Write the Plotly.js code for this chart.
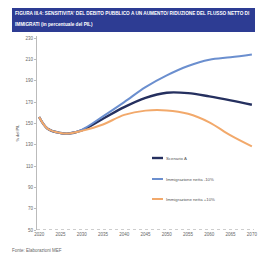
<!DOCTYPE html>
<html>
<head>
<meta charset="utf-8">
<script src="https://cdn.plot.ly/plotly-3.0.1.min.js"></script>
<style>html,body{margin:0;padding:0;background:#fff;}#chart{width:258px;height:256px;}</style>
</head>
<body>
<div id="chart"></div>
<script>
const years = [2020, 2022, 2025, 2027, 2030, 2035, 2040, 2045, 2050, 2055, 2060, 2065, 2070];
const scenarioA = [156, 145, 141, 140.5, 143.5, 154.4, 165.3, 174, 178.8, 178.4, 175.3, 171.6, 167.5];
const immigMinus = [156, 145, 141, 140.5, 144, 156.6, 170, 184, 195, 203.8, 209.7, 212, 214.7];
const immigPlus = [156, 145, 141, 140.5, 143, 149, 158, 162, 162.2, 159, 151, 138.7, 128.4];
const seriesNames = ["Scenario A", "Immigrazione netta -10%", "Immigrazione netta +10%"];
const seriesColors = ["#25305f", "#6b8fcf", "#f2a96b"];
const seriesWidths = [2.4, 2, 2];
const yTicks = [50, 70, 90, 110, 130, 150, 170, 190, 210, 230];
const xTicks = [2020, 2025, 2030, 2035, 2040, 2045, 2050, 2055, 2060, 2065, 2070];
const titleLines = ["FIGURA III.4: SENSITIVITA' DEL DEBITO PUBBLICO A UN AUMENTO/ RIDUZIONE DEL FLUSSO NETTO DI", "IMMIGRATI (in percentuale del PIL)"];
const yTitle = "% del PIL";
const source = "Fonte: Elaborazioni MEF";

const allSeries = [scenarioA, immigMinus, immigPlus];
const traces = allSeries.map((v, i) => ({
  x: years, y: v, type: 'scatter', mode: 'lines', name: seriesNames[i],
  line: {color: seriesColors[i], width: seriesWidths[i], shape: 'spline', smoothing: 1},
  showlegend: false, hoverinfo: 'skip'
}));

const W = 217, H = 194;
const px = p => (p - 37) / W;
const py = p => (230 - p) / H;

const shapes = [
  {type: 'rect', xref: 'paper', yref: 'paper', x0: px(12), x1: px(255), y0: py(32), y1: py(8), fillcolor: '#2d3c93', line: {width: 0}, layer: 'below'},
  {type: 'line', xref: 'paper', yref: 'y', x0: 0, x1: 1, y0: 50, y1: 50, line: {color: '#9a9a9a', width: 1, dash: 'dot'}}
];
const annotations = [
  {xref: 'paper', yref: 'paper', x: px(13), y: py(14), xanchor: 'left', yanchor: 'middle', text: '<b>' + titleLines[0] + '</b>', showarrow: false, font: {family: 'Liberation Sans, Arial', size: 4.7, color: '#ffffff'}},
  {xref: 'paper', yref: 'paper', x: px(13), y: py(25), xanchor: 'left', yanchor: 'middle', text: '<b>' + titleLines[1] + '</b>', showarrow: false, font: {family: 'Liberation Sans, Arial', size: 4.7, color: '#ffffff'}},
  {xref: 'paper', yref: 'paper', x: px(10), y: py(250), xanchor: 'left', yanchor: 'middle', text: source, showarrow: false, font: {family: 'Liberation Sans, Arial', size: 4.5, color: '#666'}}
];
const legY = [158, 179, 199];
seriesNames.forEach((n, i) => {
  shapes.push({type: 'line', xref: 'paper', yref: 'paper', x0: px(152), x1: px(163), y0: py(legY[i]), y1: py(legY[i]), line: {color: seriesColors[i], width: seriesWidths[i]}});
  annotations.push({xref: 'paper', yref: 'paper', x: px(164), y: py(legY[i]), xanchor: 'left', yanchor: 'middle', text: n, showarrow: false, font: {family: 'Liberation Sans, Arial', size: 4.3, color: '#555'}});
});

const layout = {
  width: 258, height: 256,
  margin: {l: 37, r: 4, t: 36, b: 26, pad: 0},
  paper_bgcolor: '#fff', plot_bgcolor: '#fff',
  showlegend: false,
  font: {family: 'Liberation Sans, Arial', size: 4.5, color: '#555'},
  xaxis: {range: [2019.5, 2070.5], tickvals: xTicks, ticktext: xTicks.map(String), showgrid: false, zeroline: false, showline: false, ticks: '', tickfont: {size: 4.5, color: '#666'}, fixedrange: true},
  yaxis: {range: [50, 232], tickvals: yTicks, ticktext: yTicks.map(String), showgrid: false, zeroline: false, showline: true, linecolor: '#bbb', linewidth: 1, ticks: 'outside', ticklen: 2, tickcolor: '#bbb', tickfont: {size: 4.5, color: '#666'},
    title: {text: yTitle, font: {size: 4, color: '#444'}, standoff: 6}, fixedrange: true},
  shapes: shapes,
  annotations: annotations
};
Plotly.newPlot('chart', traces, layout, {staticPlot: true, displayModeBar: false});
</script>
</body>
</html>
